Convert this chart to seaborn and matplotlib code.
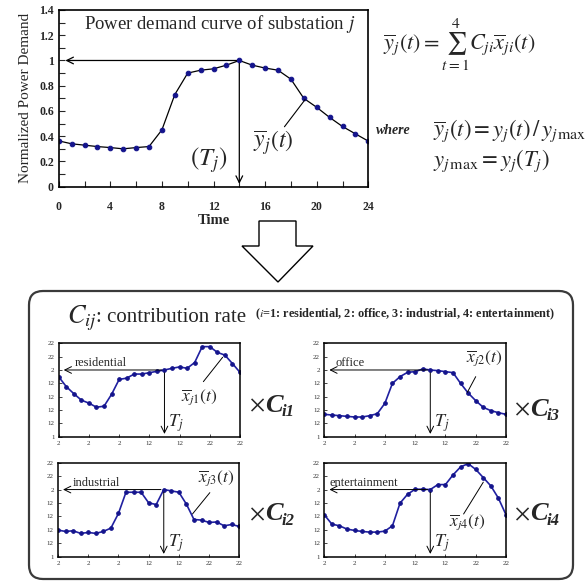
import matplotlib
matplotlib.use("Agg")
import matplotlib.pyplot as plt
import seaborn as sns
from matplotlib.patches import FancyBboxPatch, Polygon

# hourly values (t = 0..24)
hours = list(range(25))
demand = [0.363, 0.34, 0.329, 0.318, 0.31, 0.30, 0.31, 0.318, 0.45, 0.73, 0.90, 0.923, 0.934,
          0.963, 1.0, 0.963, 0.94, 0.923, 0.852, 0.70, 0.629, 0.549, 0.477, 0.419, 0.361]
residential = [0.898, 0.751, 0.645, 0.548, 0.503, 0.442, 0.457, 0.635, 0.858, 0.878, 0.939, 0.939, 0.959,
               0.98, 1.0, 1.025, 1.046, 1.025, 1.112, 1.35, 1.35, 1.264, 1.223, 1.096, 0.964]
office = [0.335, 0.325, 0.315, 0.305, 0.295, 0.295, 0.315, 0.345, 0.50, 0.80, 0.90, 0.965, 0.975,
          1.015, 1.0, 0.99, 0.975, 0.96, 0.80, 0.655, 0.54, 0.44, 0.39, 0.36, 0.335]
industrial = [0.396, 0.376, 0.386, 0.347, 0.361, 0.347, 0.376, 0.426, 0.644, 0.96, 0.96, 0.96, 0.802,
              0.777, 1.0, 0.98, 0.96, 0.782, 0.554, 0.545, 0.51, 0.517, 0.46, 0.48, 0.45]
entertainment = [0.624, 0.485, 0.46, 0.411, 0.391, 0.376, 0.366, 0.366, 0.381, 0.46, 0.797, 0.93, 1.005,
                 1.005, 1.0, 1.074, 1.074, 1.218, 1.337, 1.386, 1.30, 1.178, 1.054, 0.871, 0.624]
peak_hour = 14

xticks = [0, 4, 8, 12, 16, 20, 24]
yticks = [0, 0.2, 0.4, 0.6, 0.8, 1.0, 1.2, 1.4]
main_ylabels = ["0", "0.2", "0.4", "0.6", "0.8", "1", "1.2", "1.4"]
small_ylabels = ["1", "12", "12", "12", "12", "2", "22", "22"]
small_xlabels = ["2", "2", "2", "12", "12", "22", "22"]

sns.set_theme(style="ticks")
plt.rcParams['font.family'] = ['Liberation Serif', 'DejaVu Serif']
plt.rcParams['mathtext.fontset'] = 'stix'

W, H = 587, 582
fig = plt.figure(figsize=(W / 100, H / 100), dpi=100)

def box(l, t, r, b):
    # pixel box -> figure fraction
    return [l / W, 1 - b / H, (r - l) / W, (b - t) / H]

# overlay in pixel coords for the frame, big arrow and formulas
ov = fig.add_axes([0, 0, 1, 1])
ov.set_xlim(0, W)
ov.set_ylim(H, 0)
ov.axis('off')
ov.add_patch(FancyBboxPatch((29, 291), 544, 288, boxstyle="round,pad=0,rounding_size=14",
                            fc='none', ec='#3a3a3a', lw=1.6))
ov.add_patch(Polygon([(259, 221), (296, 221), (296, 246), (313, 246), (278, 282), (242, 246), (259, 246)],
                     closed=True, fc='white', ec='black', lw=1))
ov.text(383, 45, r'$\overline{y}_j(t)=\sum_{t=1}^{4}C_{ji}\overline{x}_{ji}(t)$', fontsize=16, va='center')
ov.text(376, 131, 'where', fontsize=10, style='italic', fontweight='bold', va='center')
ov.text(433, 131, r'$\overline{y}_j(t)=y_j(t)\,/\,y_{j\,\max}$', fontsize=16.3, va='center')
ov.text(433, 161, r'$y_{j\,\max}=y_j(T_j)$', fontsize=16.3, va='center')
ov.text(67, 318, r'$C_{ij}$', fontsize=19, va='center')
ov.text(96, 318, ': contribution rate', fontsize=15, va='center')
ov.text(255, 314, r'($i$=1: residential, 2: office, 3: industrial, 4: entertainment)',
        fontsize=8.8, fontweight='bold', va='center')
for x0, y0, sub in [(249, 406, 'i1'), (514, 410, 'i3'), (249, 515, 'i2'), (514, 515, 'i4')]:
    ov.text(x0, y0, r'$\times$', fontsize=17, va='center')
    ov.text(x0 + 16, y0 - 1, 'C', fontsize=19, style='italic', fontweight='bold', va='center')
    ov.text(x0 + 33, y0 + 6, sub, fontsize=12, style='italic', fontweight='bold', va='center')

# main curve
ax = fig.add_axes(box(58.7, 10, 368.3, 186.7))
sns.lineplot(x=hours, y=demand, ax=ax, color='black', lw=0.9, marker='o', markersize=3.3,
             markerfacecolor='#14148c', markeredgecolor='#14148c')
ax.set_xlim(0, 24)
ax.set_ylim(0, 1.4)
ax.set_xticks(xticks)
ax.set_xticks(range(2, 24, 4), minor=True)
ax.set_yticks(yticks)
ax.set_yticks([0.1, 0.3, 0.5, 0.7, 0.9, 1.1, 1.3], minor=True)
ax.set_yticklabels(main_ylabels)
ax.tick_params(which='both', direction='in', length=4, width=0.8, labelsize=8.5, top=False, right=False)
ax.tick_params(axis='x', pad=10)
for lab in ax.get_xticklabels() + ax.get_yticklabels():
    lab.set_fontweight('bold')
for s in ax.spines.values():
    s.set_linewidth(1.2)
    s.set_color('black')
ax.set_xlabel('Time', fontsize=10.5, fontweight='bold', labelpad=1)
ax.set_ylabel('Normalized Power Demand', fontsize=11, labelpad=5)
ax.annotate('', xy=(0.3, 1.0), xytext=(peak_hour, 1.0),
            arrowprops=dict(arrowstyle='->', color='black', lw=0.9))
ax.annotate('', xy=(peak_hour, 0.0), xytext=(peak_hour, 1.0),
            arrowprops=dict(arrowstyle='->', color='black', lw=0.9))
ax.text(12.5, 1.29, 'Power demand curve of substation $j$', fontsize=13.5, ha='center', va='center')
ax.text(11.6, 0.21, r'$(T_j)$', fontsize=18, ha='center', va='center')
ax.text(16.6, 0.35, r'$\overline{y}_j(t)$', fontsize=17, ha='center', va='center')
ax.plot([17.5, 19.1], [0.475, 0.69], color='black', lw=0.8)

# contribution curves
panels = [
    (box(58.7, 343.3, 240, 436.7), residential, 'residential', 2.1,
     r'$\overline{x}_{j1}(t)$', (18.6, 0.60), [(19.15, 21.7), (0.825, 1.19)]),
    (box(324.3, 343.3, 506, 436.7), office, 'office', 1.5,
     r'$\overline{x}_{j2}(t)$', (21.1, 1.175), [(18.9, 20.0), (0.666, 0.90)]),
    (box(58, 462.7, 239.3, 556.7), industrial, 'industrial', 2.0,
     r'$\overline{x}_{j3}(t)$', (21.0, 1.17), [(17.8, 20.1), (0.636, 0.954)]),
    (box(324.3, 462.7, 506, 556.7), entertainment, 'entertainment', 0.7,
     r'$\overline{x}_{j4}(t)$', (18.85, 0.52), [(18.4, 21.0), (0.636, 1.11)]),
]
for rect, vals, name, name_x, lab, lab_xy, lead in panels:
    a = fig.add_axes(rect)
    sns.lineplot(x=hours, y=vals, ax=a, color='#2020a0', lw=1.2, marker='o', markersize=2.6,
                 markerfacecolor='#14148c', markeredgecolor='#14148c')
    a.set_xlim(0, 24)
    a.set_ylim(0, 1.4)
    a.set_xticks(xticks)
    a.set_xticklabels(small_xlabels)
    a.set_yticks(yticks)
    a.set_yticklabels(small_ylabels)
    a.tick_params(direction='in', length=2, width=0.6, labelsize=5, labelcolor='#333333', pad=3)
    for s in a.spines.values():
        s.set_linewidth(1.1)
        s.set_color('black')
    a.annotate('', xy=(0.3, 1.0), xytext=(peak_hour, 1.0),
               arrowprops=dict(arrowstyle='->', color='black', lw=0.7))
    a.annotate('', xy=(peak_hour, 0.0), xytext=(peak_hour, 1.0),
               arrowprops=dict(arrowstyle='->', color='black', lw=0.7))
    a.text(name_x, 1.1, name, fontsize=9, va='center')
    a.text(14.5, 0.2, r'$T_j$', fontsize=13, va='center')
    a.text(lab_xy[0], lab_xy[1], lab, fontsize=12.5, ha='center', va='center')
    a.plot(lead[0], lead[1], color='black', lw=0.7)

fig.savefig('out.png', dpi=100)
